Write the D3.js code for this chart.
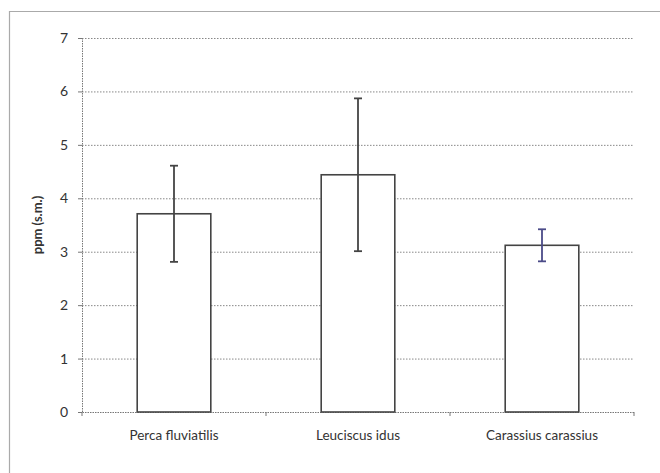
<!DOCTYPE html>
<html>
<head>
<meta charset="utf-8">
<script src="https://cdn.jsdelivr.net/npm/d3@7"></script>
<style>
body { margin: 0; background: #fff; }
text { font-family: Lato, "Open Sans", sans-serif; fill: #333; }
</style>
</head>
<body>
<script>
const species = ["Perca fluviatilis", "Leuciscus idus", "Carassius carassius"];
const means = [3.71, 4.44, 3.12];
const errors = [0.9, 1.43, 0.3];
const yTicks = [0, 1, 2, 3, 4, 5, 6, 7];

const svgWidth = 660;
const svgHeight = 473;
const margin = { top: 38, right: 26, bottom: 61, left: 82 };
const width = svgWidth - margin.left - margin.right;
const height = svgHeight - margin.top - margin.bottom;

const svg = d3.select("body").append("svg")
	.attr("width", svgWidth)
	.attr("height", svgHeight);

// outer frame of the scanned figure
svg.append("path")
	.attr("d", `M9.5,${svgHeight} V11.5 H${svgWidth}`)
	.attr("fill", "none")
	.attr("stroke", "#aaa")
	.attr("stroke-width", 1.2);

const g = svg.append("g").attr("transform", `translate(${margin.left},${margin.top})`);

const x = d3.scaleBand()
	.domain(species)
	.range([0, width])
	.paddingInner(0.6)
	.paddingOuter(0.3);

const y = d3.scaleLinear().domain([0, 7]).range([height, 0]);

// gridlines
g.selectAll(".grid")
	.data(yTicks.filter(d => d > 0))
	.enter().append("line")
	.attr("x1", 0).attr("x2", width)
	.attr("y1", d => y(d) + 0.5).attr("y2", d => y(d) + 0.5)
	.attr("stroke", "#888")
	.attr("stroke-dasharray", "1.5,1.5");

// y axis
const yAxis = g.append("g")
	.call(d3.axisLeft(y).tickValues(yTicks).tickFormat(d3.format("d")).tickSize(4).tickPadding(10));
yAxis.select(".domain").attr("stroke", "#777").attr("stroke-dasharray", "1.5,1");
yAxis.selectAll(".tick line").attr("stroke", "#777");
yAxis.selectAll("text").style("font-size", "14px").attr("fill", "#333");

// x axis
const xAxis = g.append("g")
	.attr("transform", `translate(0,${height})`)
	.call(d3.axisBottom(x).tickSize(0).tickPadding(18));
xAxis.select(".domain").attr("stroke", "#777").attr("stroke-dasharray", "1.5,1");
xAxis.selectAll("text").style("font-size", "13.5px").attr("fill", "#333");

// category boundary ticks
const step = x.step();
g.selectAll(".xtick")
	.data(d3.range(species.length + 1))
	.enter().append("line")
	.attr("x1", i => x(species[0]) - x.paddingOuter() * step + i * step)
	.attr("x2", i => x(species[0]) - x.paddingOuter() * step + i * step)
	.attr("y1", height).attr("y2", height + 4)
	.attr("stroke", "#777");

// bars
g.selectAll(".bar")
	.data(species)
	.enter().append("rect")
	.attr("x", d => x(d))
	.attr("y", (d, i) => y(means[i]))
	.attr("width", x.bandwidth())
	.attr("height", (d, i) => height - y(means[i]))
	.attr("fill", "#fff")
	.attr("stroke", "#444")
	.attr("stroke-width", 1.6);

// error bars
const errColor = ["#444", "#444", "#4b4b88"];
species.forEach((s, i) => {
	const cx = x(s) + x.bandwidth() / 2;
	const top = y(means[i] + errors[i]);
	const bot = y(means[i] - errors[i]);
	const e = g.append("g").attr("stroke", errColor[i]).attr("stroke-width", 1.8);
	e.append("line").attr("x1", cx).attr("x2", cx).attr("y1", top).attr("y2", bot);
	e.append("line").attr("x1", cx - 4).attr("x2", cx + 4).attr("y1", top).attr("y2", top);
	e.append("line").attr("x1", cx - 4).attr("x2", cx + 4).attr("y1", bot).attr("y2", bot);
});

// y label
svg.append("text")
	.attr("transform", `translate(42,${margin.top + height / 2}) rotate(-90)`)
	.attr("text-anchor", "middle")
	.style("font-size", "13px")
	.style("font-weight", "bold")
	.text("ppm (s.m.)");
</script>
</body>
</html>
